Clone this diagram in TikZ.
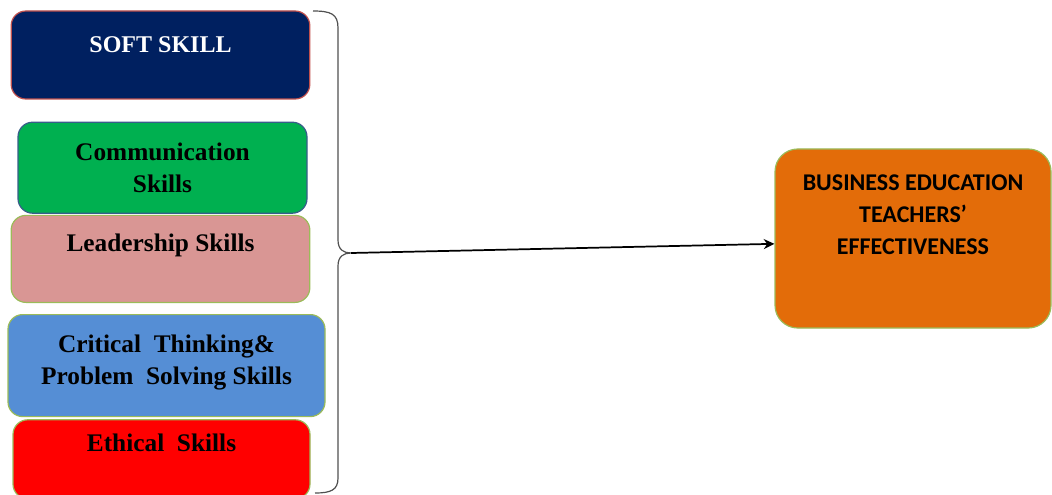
\documentclass[tikz,border=0pt]{standalone}
\usepackage{fontspec}
\setmainfont{Liberation Serif}
\newfontfamily\calibri{Carlito}
\usepackage{tikz}
\usetikzlibrary{positioning,arrows.meta}

\definecolor{softblue}{HTML}{002060}
\definecolor{softedge}{HTML}{C0504D}
\definecolor{commgreen}{HTML}{00B050}
\definecolor{commedge}{HTML}{385D8A}
\definecolor{leadpink}{HTML}{D99694}
\definecolor{critblue}{HTML}{558ED5}
\definecolor{ethicred}{HTML}{FF0000}
\definecolor{effectorange}{HTML}{E36C09}
\definecolor{greenedge}{HTML}{9BBB59}
\definecolor{bracegrey}{HTML}{505050}

\begin{document}
\begin{tikzpicture}[
    x=0.75pt, y=-0.75pt,
    skillbox/.style={rectangle, rounded corners=11pt, line width=0.9pt, align=center,
        font=\fontsize{19}{24}\selectfont\bfseries},
    effectbox/.style={rectangle, rounded corners=17pt, line width=0.9pt, align=center,
        font=\calibri\fontsize{18}{24}\selectfont\bfseries}
    ]
        \useasboundingbox (0,0) rectangle (1052,495);

        %Nodes
        \node[skillbox, fill=softblue, draw=softedge, text=white, font=\fontsize{18}{24}\selectfont\bfseries,
              minimum width=224pt, minimum height=66pt, text depth=15pt]
            (soft) at (160.5,55)    {SOFT SKILL};
        \node[skillbox, fill=commgreen, draw=commedge, minimum width=216.75pt, minimum height=68.25pt]
            (comm)  [below=16.5pt of soft, xshift=1.5pt]    {Communication\\Skills};
        \node[skillbox, fill=leadpink, draw=greenedge, minimum width=224pt, minimum height=65.25pt, text depth=24pt]
            (lead)  [below=0.75pt of comm, xshift=-1.5pt]   {Leadership Skills};
        \node[skillbox, fill=critblue, draw=greenedge, minimum width=237.75pt, minimum height=76.5pt, text depth=9.5pt]
            (crit)  [below=8.25pt of lead, xshift=4.5pt]    {Critical\ \ Thinking\&\\Problem\ \ Solving Skills};
        \node[skillbox, fill=ethicred, draw=greenedge, minimum width=222.75pt, minimum height=59.25pt, text depth=25.5pt]
            (ethic) [below=1.5pt of crit, xshift=-3.75pt]   {Ethical\ \ Skills};
        \node[effectbox, fill=effectorange, draw=greenedge, minimum width=207pt, minimum height=134.25pt, text depth=36pt]
            (effect) at (913,238.5) {BUSINESS EDUCATION\\TEACHERS’\\EFFECTIVENESS};

        %Lines
        \coordinate (tip) at (351,253);
        \draw[draw=bracegrey, line width=0.9pt]
            (313,11) .. controls (331,11) and (338,14) .. (338,28) -- (338,240)
            .. controls (338,250) and (344,253) .. (tip)
            .. controls (344,253) and (338,256) .. (338,266) -- (338,478)
            .. controls (338,490) and (331,493) .. (315,493);
        \draw[-{Stealth[length=8pt, width=7.5pt]}, draw=black, line width=1.3pt]
            (tip) -- ([yshift=-4pt]effect.west);
\end{tikzpicture}
\end{document}
